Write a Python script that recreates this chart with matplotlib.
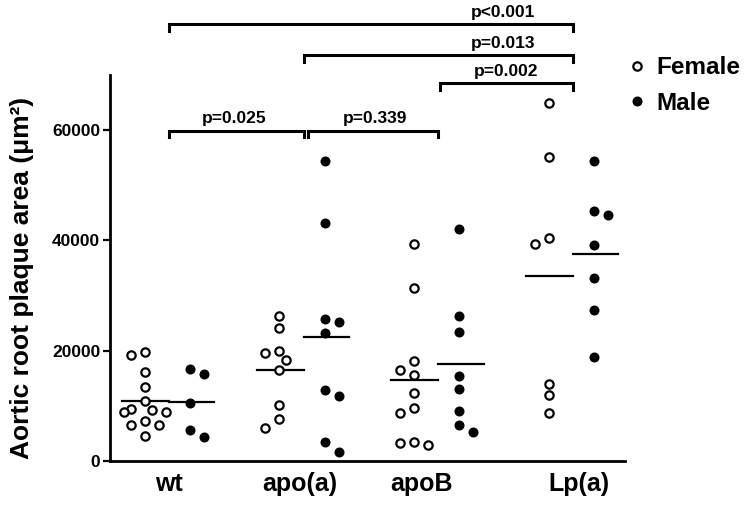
import numpy as np
import matplotlib.pyplot as plt
from matplotlib.lines import Line2D

plt.rcParams['font.family'] = ['Liberation Sans', 'DejaVu Sans']
plt.rcParams['font.weight'] = 'bold'

# Données (um^2)
groupes = ['wt', 'apo(a)', 'apoB', 'Lp(a)']
femelles = [
    [19690, 19270, 16050, 13400, 10850, 9510, 8850, 8850, 9270, 7270, 6600, 6545, 4545],
    [26235, 24125, 19870, 19580, 18235, 16415, 10125, 7690, 6055],
    [39395, 31270, 18055, 16415, 15635, 12305, 9580, 8670, 3510, 2910, 3220],
    [64900, 55140, 39270, 40360, 13945, 12000, 8780],
]
males = [
    [15760, 16670, 10545, 4420, 5640],
    [54415, 43215, 25760, 25145, 23215, 12780, 11870, 3400, 1690],
    [42000, 26235, 23395, 15325, 13090, 9145, 6545, 5220],
    [54415, 44540, 45325, 39140, 33215, 27325, 18855],
]
comparaisons = [(0, 3, 'p<0.001'), (1, 3, 'p=0.013'), (2, 3, 'p=0.002'),
                (0, 1, 'p=0.025'), (1, 2, 'p=0.339')]

# mise en page
fig = plt.figure(figsize=(7.47, 5.08), dpi=100)
ax = fig.add_axes([0.1473, 0.0925, 0.6894, 0.7603])
ax.set_xlim(-0.438, 3.385)
ax.set_ylim(0, 70000)

px_x = 0.6894 * 747 / (3.385 + 0.438)   # pixels par unite en x
px_y = 0.7603 * 508 / 70000             # pixels par um^2


def essaim(valeurs, centre, d=7, r=9.5):
    """Place les points en colonne, decale a gauche/droite s'ils se chevauchent"""
    places = []
    xs = np.zeros(len(valeurs))
    for k in np.argsort(valeurs)[::-1]:
        y = valeurs[k] * px_y
        for pas in [0, -2, 1, 2, -1, 3, -3]:
            x = pas * d
            if all(np.hypot(x - a, y - b) >= r for a, b in places):
                break
        places.append((x, y))
        xs[k] = centre + x / px_x
    return xs


for i in range(len(groupes)):
    f = np.array(femelles[i])
    m = np.array(males[i])
    ax.plot(essaim(f, i - 0.18), f, 'o', ms=6, mfc='white', mec='black', mew=1.6,
            clip_on=False, zorder=3)
    ax.plot(essaim(m, i + 0.155, d=-7), m, 'o', ms=6.2, mfc='black', mec='black', mew=1,
            clip_on=False, zorder=3)
    # moyennes
    ax.plot([i - 0.35, i], [f.mean(), f.mean()], color='black', lw=1.6, zorder=2)
    ax.plot([i, i + 0.335], [m.mean(), m.mean()], color='black', lw=1.6, zorder=2)

# crochets de significativite
hauteurs = [79200, 73600, 68500, 59900, 59900]
decalage = [0, 0, 0.01, 0, 0.035]
texte_x = [2.48, 2.48, 2.5, 0.48, 1.53]
for (i, j, txt), h, dx, tx in zip(comparaisons, hauteurs, decalage, texte_x):
    a = i + dx
    ax.plot([a, a, j, j], [h - 1250, h, h, h - 1250], color='black', lw=2.2,
            clip_on=False, solid_joinstyle='miter')
    ax.text(tx, h + 800, txt, ha='center', va='bottom', fontsize=12.5,
            fontweight='bold')

ax.spines['top'].set_visible(False)
ax.spines['right'].set_visible(False)
ax.spines['left'].set_linewidth(2)
ax.spines['bottom'].set_linewidth(2)

ax.set_yticks([0, 20000, 40000, 60000])
ax.tick_params(axis='y', length=5, width=1.6, pad=2, labelsize=12.5)
decal_lab = [0, -0.03, -0.125, 0.04]
ax.set_xticks([i + d for i, d in enumerate(decal_lab)])
ax.set_xticklabels(groupes, fontsize=18, fontweight='bold')
ax.tick_params(axis='x', length=0, pad=8)
ax.set_ylabel('Aortic root plaque area (\u03bcm\u00b2)', fontsize=19,
              fontweight='bold')
ax.yaxis.set_label_coords(-0.147, 0.475)

poignees = [Line2D([], [], marker='o', ls='', ms=6, mfc='white', mec='black', mew=1.6),
            Line2D([], [], marker='o', ls='', ms=6.2, mfc='black', mec='black')]
fig.legend(poignees, ['Female', 'Male'], loc='upper left', bbox_to_anchor=(0.812, 0.932),
           frameon=False, prop={'size': 17.5, 'weight': 'bold'}, handlelength=0.7,
           handletextpad=0.45, labelspacing=0.5)

fig.savefig('out.png', dpi=100)
